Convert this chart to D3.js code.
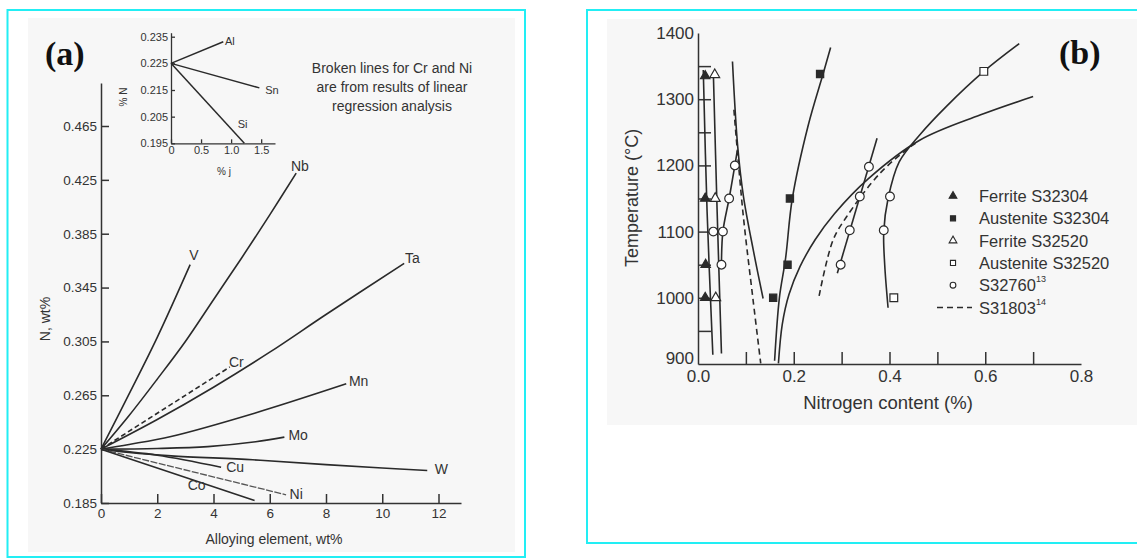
<html>
<head>
<meta charset="utf-8">
<title>Nitrogen solubility panels</title>
<script src="https://d3js.org/d3.v7.min.js"></script>
<style>
  body { margin: 0; background: #fff; }
  svg { display: block; font-family: "Liberation Sans", Arial, sans-serif; }
  .ax path, .ax line { stroke: #333; stroke-width: 1.5; }
  .ax text { fill: #333; font-family: "Liberation Sans", Arial, sans-serif; }
  .fit { fill: none; stroke: #2a2a2a; stroke-width: 1.6; }
</style>
</head>
<body>
<svg width="1137" height="559"></svg>
<script>
// ---------- panel (a): N wt% vs alloying element wt%
var elemNames = ["V", "Nb", "Ta", "Cr", "Mn", "Mo", "W", "Cu", "Ni", "Co"];
var V  = [[0, 0.225], [1, 0.266], [2, 0.308], [3.17, 0.362]];
var Nb = [[0, 0.225], [1, 0.250], [2, 0.277], [3, 0.305], [4, 0.336], [5, 0.367], [6, 0.399], [6.94, 0.430]];
var Ta = [[0, 0.225], [2, 0.247], [4, 0.271], [6, 0.297], [8, 0.325], [10.78, 0.363]];
var Cr = [[0, 0.225], [4.58, 0.286]];
var Mn = [[0, 0.225], [1, 0.2285], [2.49, 0.2344], [5.46, 0.2517], [8.72, 0.2735]];
var Mo = [[0, 0.225], [2, 0.2255], [3.8, 0.2269], [5.5, 0.2305], [6.52, 0.2339]];
var W  = [[0, 0.225], [1, 0.2225], [2.5, 0.2200], [5.4, 0.2171], [8, 0.2135], [10, 0.2110], [11.6, 0.2091]];
var Cu = [[0, 0.225], [2, 0.2205], [4.27, 0.2116]];
var Ni = [[0, 0.225], [6.58, 0.1911]];
var Co = [[0, 0.225], [5.46, 0.1869]];
var elemLines = [V, Nb, Ta, Cr, Mn, Mo, W, Cu, Ni, Co];
// where each element name sits, in data units
var elemLabelAt = [[3.30, 0.3695], [7.07, 0.435], [11.07, 0.367], [4.81, 0.290], [9.16, 0.2754],
                   [7.01, 0.2355], [12.10, 0.2103], [4.77, 0.2119], [6.94, 0.1915], [3.40, 0.198]];
var brokenElems = ["Cr", "Ni"];
var yTicksA = [0.185, 0.225, 0.265, 0.305, 0.345, 0.385, 0.425, 0.465];
var xTicksA = [0, 2, 4, 6, 8, 10, 12];

// inset: Al, Sn, Si
var insetNames = ["Al", "Sn", "Si"];
var Al = [[0, 0.225], [0.87, 0.2331]];
var Sn = [[0, 0.225], [1.47, 0.2158]];
var Si = [[0, 0.225], [1.22, 0.195]];
var insetLines = [Al, Sn, Si];
var insetLabelAt = [[0.98, 0.2335], [1.68, 0.2150], [1.19, 0.2021]];
var yTicksInset = [0.195, 0.205, 0.215, 0.225, 0.235];
var xTicksInset = [0, 0.5, 1.0, 1.5];

var noteLines = ["Broken lines for Cr and Ni", "are from results of linear", "regression analysis"];

// ---------- panel (b): temperature vs nitrogen content
var ferriteS32304   = [[0.015, 1335], [0.015, 1150], [0.016, 1050], [0.015, 1000]];
var austeniteS32304 = [[0.157, 1000], [0.187, 1050], [0.192, 1150], [0.255, 1338]];
var ferriteS32520   = [[0.035, 1337], [0.036, 1150], [0.037, 1000]];
var austeniteS32520 = [[0.409, 1000], [0.597, 1342]];
var s32760 = [[0.032, 1100], [0.052, 1100], [0.049, 1050], [0.065, 1150], [0.077, 1200],
              [0.298, 1050], [0.317, 1102], [0.338, 1153], [0.357, 1198], [0.388, 1102], [0.401, 1153]];

var fitFerriteS32304   = [[0.011, 1344], [0.019, 1130], [0.031, 914]];
var fitFerriteS32520   = [[0.032, 1341], [0.040, 1130], [0.049, 916]];
var fitS32760Ferrite   = [[0.049, 1050], [0.052, 1100], [0.065, 1150], [0.077, 1200], [0.082, 1222]];
var fitPeak            = [[0.072, 1357], [0.083, 1228], [0.095, 1153], [0.1155, 1072], [0.136, 999]];
var fitAusteniteS32304 = [[0.160, 905], [0.170, 1000], [0.183, 1060], [0.197, 1150], [0.230, 1260], [0.262, 1340], [0.277, 1378]];
var fitArc             = [[0.168, 901], [0.176, 960], [0.190, 1005], [0.213, 1047], [0.245, 1088], [0.285, 1127],
                          [0.356, 1180], [0.463, 1238], [0.589, 1276], [0.70, 1304]];
var fitAusteniteS32520 = [[0.397, 985], [0.390, 1050], [0.388, 1100], [0.397, 1150], [0.42, 1205], [0.463, 1246],
                          [0.52, 1290], [0.597, 1342], [0.671, 1384]];
var fitS32760Austenite = [[0.291, 1037], [0.374, 1241]];
var dashS31803Ferrite   = [[0.075, 1284], [0.094, 1128], [0.115, 997], [0.131, 901]];
var dashS31803Austenite = [[0.253, 1003], [0.282, 1087], [0.310, 1122], [0.38, 1188], [0.443, 1228], [0.46, 1236]];

var legendNames = ["Ferrite S32304", "Austenite S32304", "Ferrite S32520", "Austenite S32520", "S32760", "S31803"];
var legendSup = ["", "", "", "", "13", "14"];
var yTicksB = [900, 1000, 1100, 1200, 1300, 1400];
var xLabelsB = [0, 0.2, 0.4, 0.6, 0.8];
var xTicksB = [0.1, 0.2, 0.3, 0.4, 0.5, 0.6, 0.7];

var svg = d3.select("svg");
var ink = "#2a2a2a";

// frames and scanned backgrounds
svg.append("rect").attr("x", 28).attr("y", 18).attr("width", 487).attr("height", 534).attr("fill", "#f7f7f7");
svg.append("rect").attr("x", 607).attr("y", 19).attr("width", 530).attr("height", 406).attr("fill", "#f7f7f7");
svg.append("rect").attr("x", 7.5).attr("y", 10).attr("width", 517.5).attr("height", 547)
  .attr("fill", "none").attr("stroke", "#22eef4").attr("stroke-width", 2);
svg.append("rect").attr("x", 587).attr("y", 10).attr("width", 560).attr("height", 533)
  .attr("fill", "none").attr("stroke", "#22eef4").attr("stroke-width", 2);

// ===== panel (a)
var xA = d3.scaleLinear().domain([0, 12.8]).range([101, 461]);
var yA = d3.scaleLinear().domain([0.185, 0.465]).range([503, 126]);
var yTopA = 0.497;

var gA = svg.append("g");
gA.append("g").attr("class", "ax").attr("transform", "translate(" + xA(0) + ",0)")
  .call(d3.axisLeft(d3.scaleLinear().domain([0.185, yTopA]).range([yA(0.185), yA(yTopA)]))
    .tickValues(yTicksA).tickFormat(d3.format(".3f")).tickSizeInner(-8).tickSizeOuter(0).tickPadding(4))
  .selectAll("text").style("font-size", "13.5px");
gA.append("g").attr("class", "ax").attr("transform", "translate(0," + yA(0.185) + ")")
  .call(d3.axisBottom(xA).tickValues(xTicksA).tickSizeInner(-9).tickSizeOuter(0).tickPadding(5))
  .selectAll("text").style("font-size", "13.5px");

var lineA = d3.line().x(function(d) { return xA(d[0]); }).y(function(d) { return yA(d[1]); })
  .curve(d3.curveCatmullRom.alpha(0.5));

elemLines.forEach(function(pts, i) {
  var broken = brokenElems.indexOf(elemNames[i]) >= 0;
  gA.append("path").attr("d", lineA(pts)).attr("fill", "none")
    .attr("stroke", elemNames[i] == "Ni" ? "#555" : ink)
    .attr("stroke-width", elemNames[i] == "Ni" ? 1.3 : 1.6)
    .attr("stroke-dasharray", elemNames[i] == "Cr" ? "5,3" : (broken ? "7,1.5" : null));
  gA.append("text").attr("x", xA(elemLabelAt[i][0])).attr("y", yA(elemLabelAt[i][1]))
    .attr("text-anchor", "middle").attr("dominant-baseline", "central")
    .attr("fill", "#333").style("font-size", "14px").text(elemNames[i]);
});

gA.append("text").attr("transform", "translate(45,319) rotate(-90)").attr("text-anchor", "middle")
  .attr("dominant-baseline", "central").attr("fill", "#333").style("font-size", "14px").text("N, wt%");
gA.append("text").attr("x", 274).attr("y", 539).attr("text-anchor", "middle")
  .attr("dominant-baseline", "central").attr("fill", "#333").style("font-size", "14px").text("Alloying element, wt%");

gA.append("g").selectAll("text").data(noteLines).join("text")
  .attr("x", 392).attr("y", function(d, i) { return 68 + i * 19; })
  .attr("text-anchor", "middle").attr("dominant-baseline", "central")
  .attr("fill", "#333").style("font-size", "14px").text(function(d) { return d; });

gA.append("text").attr("x", 45).attr("y", 65).attr("fill", "#111")
  .style("font-family", "'Liberation Serif', 'Times New Roman', serif")
  .style("font-weight", "bold").style("font-size", "34px").text("(a)");

// inset
var xI = d3.scaleLinear().domain([0, 1.73]).range([171, 275]);
var yI = d3.scaleLinear().domain([0.195, 0.235]).range([143.3, 36.7]);
var gI = svg.append("g");
gI.append("g").attr("class", "ax").attr("transform", "translate(" + xI(0) + ",0)")
  .call(d3.axisLeft(d3.scaleLinear().domain([0.195, 0.2365]).range([yI(0.195), yI(0.2365)]))
    .tickValues(yTicksInset).tickFormat(d3.format(".3f")).tickSizeInner(-4).tickSizeOuter(0).tickPadding(3))
  .selectAll("text").style("font-size", "11px");
gI.append("g").attr("class", "ax").attr("transform", "translate(0," + yI(0.195) + ")")
  .call(d3.axisBottom(xI).tickValues(xTicksInset).tickFormat(function(d) { return d == 0 ? "0" : d3.format(".1f")(d); })
    .tickSizeInner(-4).tickSizeOuter(0).tickPadding(3))
  .selectAll("text").style("font-size", "11px");
gI.selectAll(".ax path, .ax line").style("stroke-width", 1.3);

var lineI = d3.line().x(function(d) { return xI(d[0]); }).y(function(d) { return yI(d[1]); });
insetLines.forEach(function(pts, i) {
  gI.append("path").attr("d", lineI(pts)).attr("fill", "none").attr("stroke", ink).attr("stroke-width", 1.5);
  gI.append("text").attr("x", xI(insetLabelAt[i][0])).attr("y", yI(insetLabelAt[i][1]))
    .attr("text-anchor", "middle").attr("dominant-baseline", "central")
    .attr("fill", "#333").style("font-size", "11px").text(insetNames[i]);
});
gI.append("text").attr("transform", "translate(123,97) rotate(-90)").attr("text-anchor", "middle")
  .attr("dominant-baseline", "central").attr("fill", "#333").style("font-size", "10px").text("% N");
gI.append("text").attr("x", 224).attr("y", 171).attr("text-anchor", "middle")
  .attr("dominant-baseline", "central").attr("fill", "#333").style("font-size", "10px").text("% j");

// ===== panel (b)
var xB = d3.scaleLinear().domain([0, 0.8]).range([698, 1081]);
var yB = d3.scaleLinear().domain([900, 1400]).range([364, 33]);
var gB = svg.append("g");

var yLab = gB.append("g").attr("class", "ax").attr("transform", "translate(" + xB(0) + ",0)")
  .call(d3.axisLeft(yB).tickValues(yTicksB).tickFormat(d3.format("d")).tickSizeInner(0).tickSizeOuter(0).tickPadding(4));
yLab.selectAll("text").style("font-size", "17px")
  .attr("dy", function(d) { return d == 900 ? "-0.05em" : "0.32em"; });
gB.append("g").attr("class", "ax").attr("transform", "translate(" + xB(0) + ",0)")
  .call(d3.axisRight(yB).tickValues(d3.range(950, 1400, 50)).tickSizeInner(13).tickSizeOuter(0).tickFormat(""))
  .select(".domain").remove();
gB.append("g").attr("class", "ax").attr("transform", "translate(0," + yB(900) + ")")
  .call(d3.axisBottom(xB).tickValues(xLabelsB).tickFormat(d3.format(".1f")).tickSizeInner(0).tickSizeOuter(0).tickPadding(6))
  .selectAll("text").style("font-size", "17px");
gB.append("g").attr("class", "ax").attr("transform", "translate(0," + yB(900) + ")")
  .call(d3.axisTop(xB).tickValues(xTicksB).tickSizeInner(12).tickSizeOuter(0).tickFormat(""))
  .select(".domain").remove();

gB.append("text").attr("transform", "translate(632,198) rotate(-90)").attr("text-anchor", "middle")
  .attr("dominant-baseline", "central").attr("fill", "#333").style("font-size", "18px").text("Temperature (°C)");
gB.append("text").attr("x", 888).attr("y", 402).attr("text-anchor", "middle")
  .attr("dominant-baseline", "central").attr("fill", "#333").style("font-size", "18.5px").text("Nitrogen content (%)");

var lineB = d3.line().x(function(d) { return xB(d[0]); }).y(function(d) { return yB(d[1]); })
  .curve(d3.curveCatmullRom.alpha(0.5));

[fitFerriteS32304, fitFerriteS32520, fitS32760Ferrite, fitPeak, fitAusteniteS32304, fitArc,
 fitAusteniteS32520, fitS32760Austenite].forEach(function(pts) {
  gB.append("path").attr("class", "fit").attr("d", lineB(pts));
});
[dashS31803Ferrite, dashS31803Austenite].forEach(function(pts) {
  gB.append("path").attr("class", "fit").attr("d", lineB(pts)).attr("stroke-dasharray", "6,4");
});

var triangle = d3.symbol().type(d3.symbolTriangle);
var square = d3.symbol().type(d3.symbolSquare);
var circle = d3.symbol().type(d3.symbolCircle);

function marks(data, sym, size, filled) {
  gB.append("g").selectAll("path").data(data).join("path")
    .attr("transform", function(d) { return "translate(" + xB(d[0]) + "," + yB(d[1]) + ")"; })
    .attr("d", sym.size(size)())
    .attr("fill", filled ? ink : "#fff").attr("stroke", ink).attr("stroke-width", 1.2);
}
marks(ferriteS32304, triangle, 38, true);
marks(austeniteS32304, square, 52, true);
marks(ferriteS32520, triangle, 42, false);
marks(austeniteS32520, square, 60, false);
marks(s32760, circle, 60, false);

// legend
var legY = function(i) { return 196 + i * 22.3; };
var legSyms = [[triangle, true], [square, true], [triangle, false], [square, false], [circle, false]];
legSyms.forEach(function(s, i) {
  gB.append("path").attr("transform", "translate(953," + legY(i) + ")")
    .attr("d", s[0].size(26)()).attr("fill", s[1] ? ink : "#fff").attr("stroke", ink).attr("stroke-width", 1.1);
});
gB.append("line").attr("x1", 937).attr("x2", 972).attr("y1", legY(5)).attr("y2", legY(5))
  .attr("stroke", ink).attr("stroke-width", 1.6).attr("stroke-dasharray", "6,4");
var legText = gB.append("g").selectAll("text").data(legendNames).join("text")
  .attr("x", 979).attr("y", function(d, i) { return legY(i); })
  .attr("dominant-baseline", "central").attr("fill", "#333").style("font-size", "16.5px")
  .text(function(d) { return d; });
legText.append("tspan").attr("dy", -6).style("font-size", "9px").text(function(d, i) { return legendSup[i]; });

gB.append("text").attr("x", 1059).attr("y", 64).attr("fill", "#111")
  .style("font-family", "'Liberation Serif', 'Times New Roman', serif")
  .style("font-weight", "bold").style("font-size", "34px").text("(b)");
</script>
</body>
</html>
